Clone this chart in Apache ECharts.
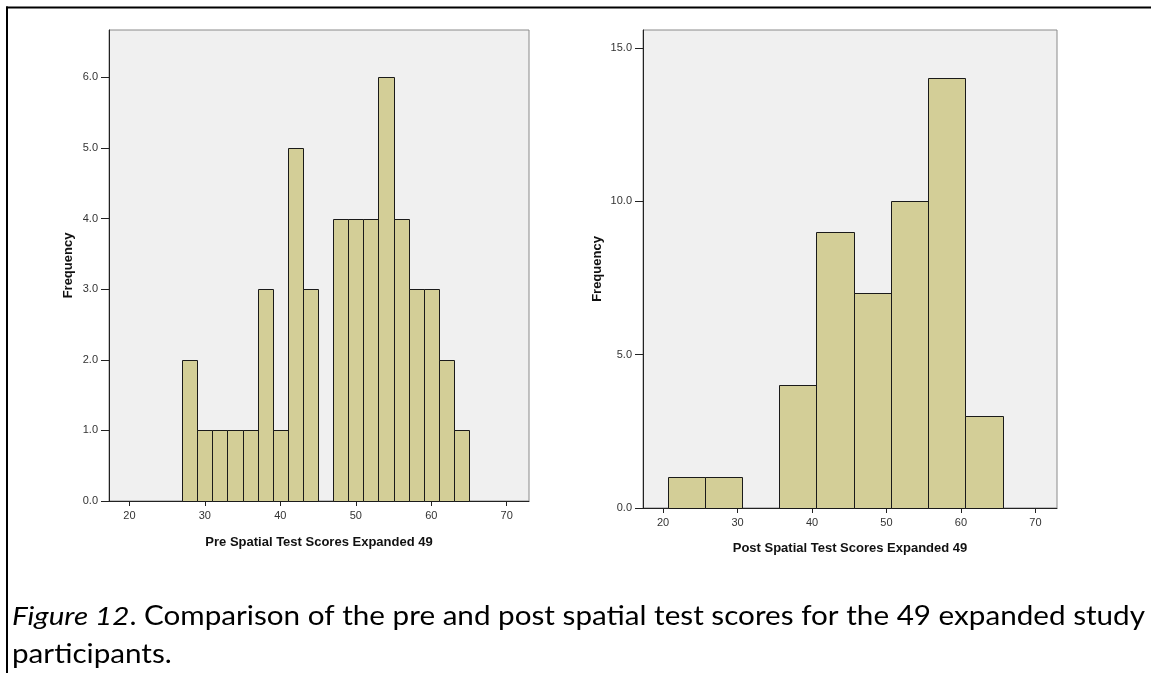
<!DOCTYPE html>
<html>
<head>
<meta charset="utf-8">
<script src="https://cdn.jsdelivr.net/npm/echarts@6/dist/echarts.min.js"></script>
<style>
html,body{margin:0;padding:0;background:#fff;}
#chart{width:1151px;height:673px;}
</style>
</head>
<body>
<div id="chart"></div>
<script>
// ---- data ----
const preBinLower = [27,29,31,33,35,37,39,41,43,45,47,49,51,53,55,57,59,61,63];
const preBinWidth = 2;
const preCounts   = [2,1,1,1,1,3,1,5,3,0,4,4,4,6,4,3,3,2,1];

const postBinLower = [20.6,25.6,30.6,35.6,40.6,45.6,50.6,55.6,60.6];
const postBinWidth = 5;
const postCounts   = [1,1,0,4,9,7,10,14,3];

const xTickValues   = [20,30,40,50,60,70];
const preYTicks     = [0,1,2,3,4,5,6];
const postYTicks    = [0,5,10,15];

const preXTitle  = 'Pre Spatial Test Scores Expanded 49';
const postXTitle = 'Post Spatial Test Scores Expanded 49';
const yTitle     = 'Frequency';
const captionItalic = 'Figure 12';
const captionRest   = '. Comparison of the pre and post spatial test scores for the 49 expanded study';
const captionLine2  = 'participants.';

// ---- build ----
const chart = echarts.init(document.getElementById('chart'), null, {renderer:'canvas'});
const barFill = '#D3CE97';
const labelFont = 'Liberation Sans, Arial, sans-serif';

function toRects(lower, width, counts){
  const out = [];
  lower.forEach((l,i)=>{ if(counts[i] > 0) out.push([l, l+width, counts[i]]); });
  return out;
}
function renderBar(params, api){
  const p0 = api.coord([api.value(0), api.value(2)]);
  const p1 = api.coord([api.value(1), 0]);
  return {
    type:'rect',
    shape:{x:Math.round(p0[0])+0.5, y:Math.round(p0[1])+0.5, width:Math.round(p1[0])-Math.round(p0[0]), height:Math.round(p1[1])-Math.round(p0[1])},
    style:{fill:barFill, stroke:'#1a1a1a', lineWidth:1}
  };
}
function xAxisCfg(idx, name, min, max, gap){
  return {
    type:'value', gridIndex:idx, min:min, max:max,
    axisLine:{show:true, onZero:false, lineStyle:{color:'#222', width:1}},
    axisTick:{show:true, length:5, customValues:xTickValues, lineStyle:{color:'#222'}},
    axisLabel:{customValues:xTickValues, fontSize:11, color:'#333', fontFamily:labelFont, margin:9},
    splitLine:{show:false},
    name:name, nameLocation:'middle', nameGap:gap,
    nameTextStyle:{fontSize:13, fontWeight:'bold', color:'#111', fontFamily:labelFont}
  };
}
function yAxisCfg(idx, max, ticks, gap){
  return {
    type:'value', gridIndex:idx, min:0, max:max,
    axisLine:{show:true, lineStyle:{color:'#222', width:1}},
    axisTick:{show:true, length:8, customValues:ticks, lineStyle:{color:'#222'}},
    axisLabel:{customValues:ticks, formatter:v=>v.toFixed(1), fontSize:11, color:'#333', fontFamily:labelFont, margin:11},
    splitLine:{show:false},
    name:yTitle, nameLocation:'middle', nameGap:gap, nameRotate:90,
    nameTextStyle:{fontSize:13, fontWeight:'bold', color:'#111', fontFamily:labelFont}
  };
}

// caption scaling to match reference line width
const cv = document.createElement('canvas').getContext('2d');
const capSize = 26, capFont = 'Lato, "Open Sans", sans-serif';
cv.font = 'italic ' + capSize + 'px ' + capFont;
const w1 = cv.measureText(captionItalic).width;
cv.font = capSize + 'px ' + capFont;
const w2 = cv.measureText(captionRest).width;
const capScale = 1133 / (w1 + w2);

chart.setOption({
  animation:false,
  backgroundColor:'#ffffff',
  grid:[
    {left:109, top:30, width:420, height:471, show:true, backgroundColor:'#F0F0F0', borderColor:'#8a8a8a', borderWidth:1},
    {left:643, top:30, width:414, height:478, show:true, backgroundColor:'#F0F0F0', borderColor:'#8a8a8a', borderWidth:1}
  ],
  xAxis:[
    xAxisCfg(0, preXTitle, 17.3, 72.95, 35),
    xAxisCfg(1, postXTitle, 17.3, 72.9, 34)
  ],
  yAxis:[
    yAxisCfg(0, 6.67, preYTicks, 34),
    yAxisCfg(1, 15.58, postYTicks, 39)
  ],
  series:[
    {type:'custom', xAxisIndex:0, yAxisIndex:0, renderItem:renderBar, data:toRects(preBinLower, preBinWidth, preCounts), encode:{x:[0,1], y:2}, silent:true},
    {type:'custom', xAxisIndex:1, yAxisIndex:1, renderItem:renderBar, data:toRects(postBinLower, postBinWidth, postCounts), encode:{x:[0,1], y:2}, silent:true}
  ],
  graphic:[
    {type:'line', shape:{x1:6, y1:7.5, x2:1151, y2:7.5}, style:{stroke:'#000', lineWidth:2}},
    {type:'line', shape:{x1:7, y1:6.5, x2:7, y2:673}, style:{stroke:'#000', lineWidth:2}},
    {type:'text', x:12, y:617, scaleX:capScale, scaleY:1,
      style:{text:'{i|' + captionItalic + '}{n|' + captionRest + '}', verticalAlign:'middle', fill:'#000',
        rich:{i:{fontStyle:'italic', fontSize:capSize, fontFamily:capFont, fill:'#000'}, n:{fontSize:capSize, fontFamily:capFont, fill:'#000'}}}},
    {type:'text', x:12, y:655, scaleX:capScale, scaleY:1,
      style:{text:captionLine2, verticalAlign:'middle', fill:'#000', fontSize:capSize, fontFamily:capFont}}
  ]
});
</script>
</body>
</html>
